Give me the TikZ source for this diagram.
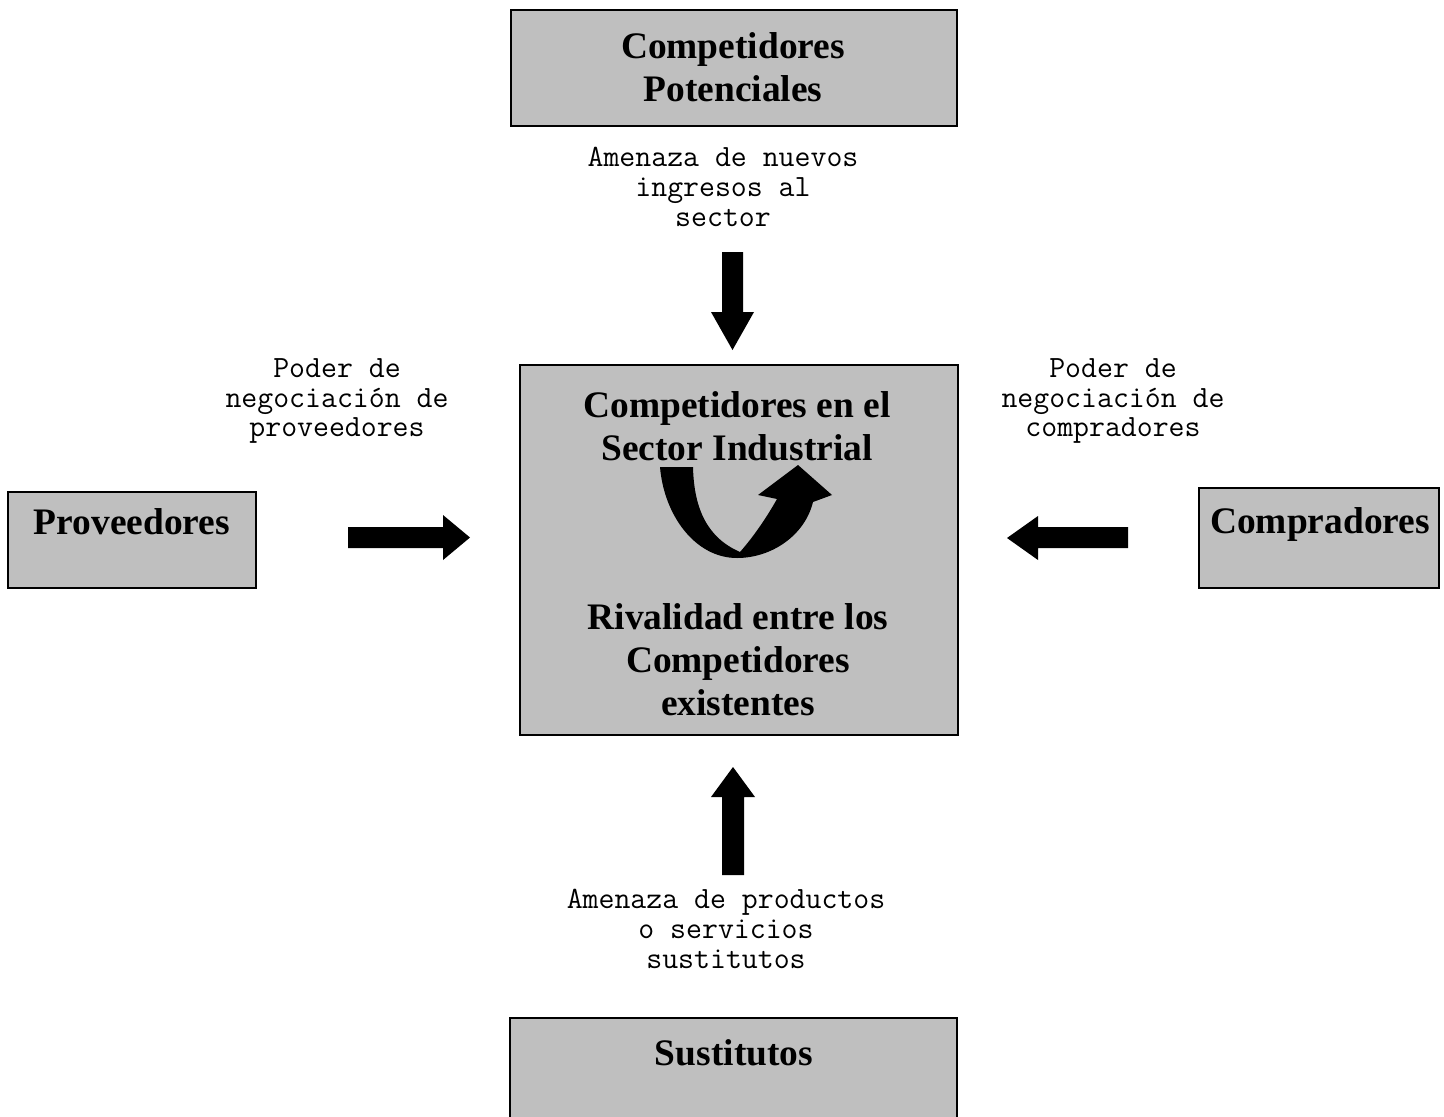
\documentclass[tikz,border=0pt]{standalone}
\usepackage{fontspec}
\setmainfont{Liberation Serif}
\begin{document}
\begin{tikzpicture}[x=0.02cm,y=-0.02cm,
  forcebox/.style={draw=black, line width=1.1pt, fill=black!25, inner sep=0pt},
  forcetitle/.style={font=\fontsize{21.3}{24.5}\selectfont\bfseries, align=center, inner sep=0pt},
  forcelabel/.style={font=\ttfamily\fontsize{17.6}{17}\selectfont, align=center, inner sep=0pt},
  blockarrow/.style={fill=black}]
\clip (0,0) rectangle (1444,1116);

% boxes of the five forces
\node[forcebox, minimum width=8.92cm, minimum height=2.32cm] (potbox) at (734,68) {};
\node[forcebox, minimum width=8.76cm, minimum height=7.40cm] (secbox) at (739,550) {};
\node[forcebox, minimum width=4.96cm, minimum height=1.92cm] (provbox) at (132,540) {};
\node[forcebox, minimum width=4.80cm, minimum height=2.00cm] (compbox) at (1319,538) {};
\node[forcebox, minimum width=8.94cm, minimum height=2.24cm] (sustbox) at (733.5,1074) {};

% box titles
\node[forcetitle] (pottxt) at (733,67) {Competidores\\Potenciales};
\node[forcetitle] (sectxt) at (737,426) {Competidores en el\\Sector Industrial};
\node[forcetitle] (rivtxt) at (738,660) {Rivalidad entre los\\Competidores\\existentes};
\node[forcetitle] (provtxt) at (132,522) {Proveedores};
\node[forcetitle] (comptxt) at (1320,524) {Compradores};
\node[forcetitle] (susttxt) at (734,1053) {Sustitutos};

% labels of the forces
\node[forcelabel] (entlbl) at (723,187) {Amenaza de nuevos\\ingresos al\\sector};
\node[forcelabel] (provlbl) at (337,401) {Poder de\\negociación de\\proveedores};
\node[forcelabel] (complbl) at (1113,401) {Poder de\\negociación de\\compradores};
\node[forcelabel] (sustlbl) at (726,929) {Amenaza de productos\\o servicios\\sustitutos};

% block arrows pointing at the sector
\fill[blockarrow] (722,252) -- (743,252) -- (743,312) -- (754,312) -- (732.5,350)
  -- (711,312) -- (722,312) -- cycle;
\fill[blockarrow] (722,875) -- (744,875) -- (744,797) -- (755,797) -- (733,767)
  -- (711,797) -- (722,797) -- cycle;
\fill[blockarrow] (348,527) -- (443,527) -- (443,515) -- (470,537.5) -- (443,560)
  -- (443,548) -- (348,548) -- cycle;
\fill[blockarrow] (1128,527) -- (1038,527) -- (1038,516) -- (1007,538) -- (1038,560)
  -- (1038,548) -- (1128,548) -- cycle;

% curved arrow of the rivalry
\fill[blockarrow] (660,467) -- (693,467)
  .. controls (694,510) and (708,538) .. (740,552)
  .. controls (755,535) and (768,515) .. (777,499)
  -- (758,495) -- (798,465) -- (832,495) -- (813,502)
  .. controls (805,535) and (772,558) .. (737,558)
  .. controls (695,558) and (664,515) .. cycle;
\end{tikzpicture}
\end{document}
